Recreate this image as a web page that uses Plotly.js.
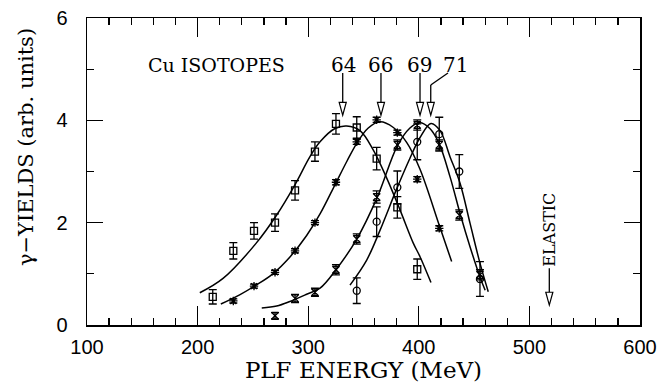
<!DOCTYPE html>
<html>
<head>
<meta charset="utf-8">
<script src="https://cdn.plot.ly/plotly-3.0.1.min.js"></script>
<style>html,body{margin:0;padding:0;background:#fff;} #chart{width:670px;height:390px;}</style>
</head>
<body>
<div id="chart"></div>
<script>
// ---- data ----
const sqX = [213.7, 232.3, 251.0, 270.0, 288.1, 306.1, 325.1, 343.9, 361.9, 380.6, 398.6];
const sqY = [0.55, 1.45, 1.84, 2.00, 2.63, 3.39, 3.93, 3.86, 3.25, 2.30, 1.09];
const sqE = [0.14, 0.16, 0.16, 0.17, 0.19, 0.19, 0.20, 0.21, 0.22, 0.21, 0.20];

const stX = [232.3, 251.0, 270.0, 288.1, 306.1, 325.1, 343.9, 361.9, 380.6, 398.6, 418.5];
const stY = [0.47, 0.76, 1.03, 1.45, 2.00, 2.79, 3.58, 4.01, 3.76, 2.85, 1.89];
const stE = [0.04, 0.04, 0.04, 0.04, 0.04, 0.05, 0.05, 0.05, 0.05, 0.05, 0.05];

const hgX = [270.0, 288.1, 306.1, 325.1, 343.9, 361.9, 380.6, 398.6, 418.5, 436.6, 455.3];
const hgY = [0.18, 0.52, 0.64, 1.08, 1.68, 2.50, 3.52, 3.91, 3.52, 2.15, 0.98];
const hgE = [0.06, 0.08, 0.08, 0.10, 0.10, 0.12, 0.10, 0.10, 0.10, 0.10, 0.10];

const ciX = [343.9, 361.9, 380.6, 398.6, 418.5, 436.6, 455.3];
const ciY = [0.67, 2.02, 2.69, 3.58, 3.73, 3.00, 0.90];
const ciE = [0.25, 0.29, 0.32, 0.35, 0.33, 0.33, 0.34];

// fitted curves
const c64X = [202, 223, 253, 271.5, 288, 301.6, 310.7, 324.2, 334.8, 346.8, 358.9, 371, 383, 395, 401, 411];
const c64Y = [0.63, 0.91, 1.60, 2.15, 2.74, 3.29, 3.58, 3.84, 3.89, 3.80, 3.42, 2.87, 2.25, 1.60, 1.34, 0.83];
const c66X = [221, 238, 253, 268, 283.5, 298.6, 310.7, 324.2, 335, 343.9, 354.3, 364.9, 377, 389, 401, 418.5, 429.7];
const c66Y = [0.41, 0.59, 0.78, 1.00, 1.33, 1.75, 2.17, 2.74, 3.20, 3.55, 3.85, 3.97, 3.86, 3.57, 3.05, 1.95, 1.24];
const c69X = [258, 271.5, 283.5, 298.6, 310.7, 325.1, 343.9, 362.5, 380.6, 392, 401, 410, 418.3, 428.2, 437.3, 446.3, 455.3, 460];
const c69Y = [0.33, 0.37, 0.46, 0.60, 0.72, 1.08, 1.68, 2.50, 3.50, 3.85, 3.96, 3.84, 3.55, 2.90, 2.18, 1.53, 0.94, 0.68];
const c71X = [337.8, 352.9, 364.9, 380, 392, 401, 411, 419.2, 428.2, 437.3, 446.3, 455.3, 462.8];
const c71Y = [0.78, 1.27, 1.85, 2.66, 3.26, 3.66, 3.94, 3.80, 3.29, 2.77, 1.99, 1.21, 0.65];

// labels
const isoLabels = ['64', '66', '69', '71'];
const isoLabelX = [331.5, 365.8, 400.6, 433.6];
const arrowX = [331.2, 365.8, 401.1, 410.8];
const labelY = 5.08;
const arrowTop = 4.925, arrowBase = 4.36, arrowTip = 4.10;
const elasticX = 518, elasticTop = 1.11, elasticBase = 0.62, elasticTip = 0.39;

const blk = '#000';
function pts(x, y, e, sym, size) {
  return {x: x, y: y, type: 'scatter', mode: 'markers',
    marker: {symbol: sym, size: size, color: blk, line: {color: blk, width: 1.3}},
    error_y: {type: 'data', array: e, visible: true, color: blk, thickness: 1.3, width: 4},
    showlegend: false, hoverinfo: 'skip'};
}
function crv(x, y) {
  return {x: x, y: y, type: 'scatter', mode: 'lines',
    line: {color: blk, width: 1.5, shape: 'spline', smoothing: 1}, showlegend: false, hoverinfo: 'skip'};
}

const traces = [
  crv(c64X, c64Y), crv(c66X, c66Y), crv(c69X, c69Y), crv(c71X, c71Y),
  pts(sqX, sqY, sqE, 'square-open', 7),
  pts(stX, stY, stE, 'asterisk-open', 7),
  pts(hgX, hgY, hgE, 'hourglass-open', 7),
  pts(ciX, ciY, ciE, 'circle-open', 7)
];

const hw = 3.2, hh = 0.25; // arrow head half width (MeV) / height (units)
const shapes = [];
function head(x, tip) {
  shapes.push({type: 'path', xref: 'x', yref: 'y',
    path: `M ${x - hw} ${tip + hh} L ${x + hw} ${tip + hh} L ${x} ${tip} Z`,
    line: {color: blk, width: 1.2}, fillcolor: '#fff'});
}
function seg(x0, y0, x1, y1) {
  shapes.push({type: 'line', xref: 'x', yref: 'y', x0: x0, y0: y0, x1: x1, y1: y1,
    line: {color: blk, width: 1.3}});
}
for (let i = 0; i < 3; i++) { seg(arrowX[i], arrowTop, arrowX[i], arrowTip + hh); head(arrowX[i], arrowTip); }
// bent arrow for 71
seg(426.4, arrowTop, arrowX[3], 4.69);
seg(arrowX[3], 4.69, arrowX[3], arrowTip + hh);
head(arrowX[3], arrowTip);
// elastic arrow
seg(elasticX, elasticTop, elasticX, elasticTip + hh);
head(elasticX, elasticTip);

const serif = 'DejaVu Serif, Liberation Serif, serif';
const annotations = [
  {x: 217.3, y: labelY, text: 'Cu ISOTOPES', showarrow: false, font: {family: serif, size: 19, color: blk}},
  {x: elasticX + 0.5, y: 1.86, text: 'ELASTIC', textangle: -90, showarrow: false, font: {family: serif, size: 16, color: blk}},
  {xref: 'paper', yref: 'paper', x: -0.11, y: 0.58, xanchor: 'center', yanchor: 'middle',
   text: 'γ−YIELDS (arb. units)', textangle: -90, showarrow: false, font: {family: serif, size: 21, color: blk}}
];
isoLabels.forEach((t, i) => annotations.push({x: isoLabelX[i], y: labelY, text: t, showarrow: false,
  font: {family: serif, size: 20, color: blk}}));

const axBase = {showline: true, linecolor: blk, linewidth: 1.5, mirror: 'allticks', ticks: 'inside',
  tickcolor: blk, tickwidth: 1.3, showgrid: false, zeroline: false,
  tickfont: {family: 'Liberation Sans, Arial, sans-serif', size: 20, color: blk}};

const layout = {
  width: 670, height: 390,
  margin: {l: 87, r: 30, t: 18, b: 65, pad: 0},
  paper_bgcolor: '#fff', plot_bgcolor: '#fff',
  xaxis: Object.assign({}, axBase, {range: [100, 600], dtick: 100, tick0: 100, ticklen: 19,
    ticklabelstandoff: 3,
    minor: {dtick: 20, tick0: 100, ticks: 'inside', ticklen: 7, tickcolor: blk, tickwidth: 1.3},
    title: {text: 'PLF ENERGY (MeV)', font: {family: serif, size: 23, color: blk}, standoff: 5}}),
  yaxis: Object.assign({}, axBase, {range: [0, 6], dtick: 2, tick0: 0, ticklen: 16,
    ticklabelstandoff: 14,
    minor: {dtick: 1, tick0: 0, ticks: 'inside', ticklen: 7, tickcolor: blk, tickwidth: 1.3}}),
  shapes: shapes,
  annotations: annotations
};

Plotly.newPlot('chart', traces, layout, {staticPlot: true, displayModeBar: false});
</script>
</body>
</html>
